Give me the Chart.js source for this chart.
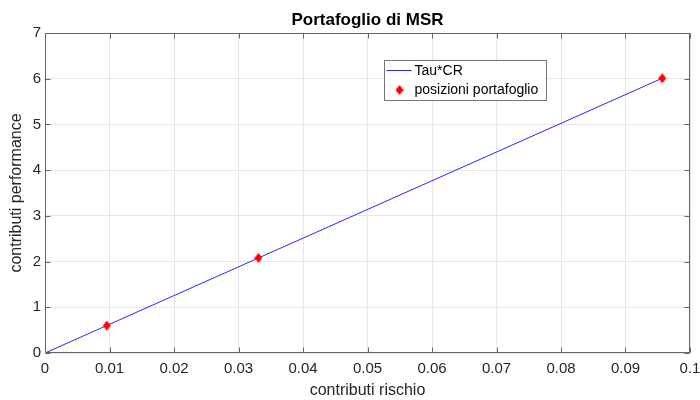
<!DOCTYPE html>
<html>
<head>
<meta charset="utf-8">
<script src="https://cdn.jsdelivr.net/npm/chart.js@4.4.0/dist/chart.umd.min.js"></script>
<style>
  html, body { margin: 0; padding: 0; background: #fff; }
  #wrap { width: 700px; height: 400px; }
</style>
</head>
<body>
<div id="wrap"><canvas id="chart" width="700" height="400"></canvas></div>
<script>
// ========== Data ==========
const riskContrib = [0.00958, 0.0331, 0.0957];   // CR of each position
const perfContrib = [0.60, 2.08, 6.01];          // performance contribution
const lineCR = [0, 0.0957];
const lineTauCR = [0, 6.01];
const xTickValues = [0, 0.01, 0.02, 0.03, 0.04, 0.05, 0.06, 0.07, 0.08, 0.09, 0.1];
const yTickValues = [0, 1, 2, 3, 4, 5, 6, 7];
const seriesNames = ["Tau*CR", "posizioni portafoglio"];

const FONT = "'Liberation Sans', Arial, sans-serif";
const AXIS_COLOR = "#666666";
const TEXT_COLOR = "#262626";

// ========== Markers ==========
function diamondMarker(w, h) {
  const c = document.createElement("canvas");
  c.width = w;
  c.height = h;
  const g = c.getContext("2d");
  g.fillStyle = "#ff0000";
  g.beginPath();
  g.moveTo(w / 2, 0);
  g.lineTo(w, h / 2);
  g.lineTo(w / 2, h);
  g.lineTo(0, h / 2);
  g.closePath();
  g.fill();
  return c;
}
const diamond = diamondMarker(8, 10);

// ========== Axes box with inward ticks ==========
const axesBox = {
  id: "axesBox",
  afterDatasetsDraw(chart) {
    const { ctx, chartArea: a, scales } = chart;
    const L = Math.round(a.left) + 0.5, R = Math.round(a.right) - 0.5;
    const T = Math.round(a.top) + 0.5, B = Math.round(a.bottom) - 0.5;
    const tl = 5;
    ctx.save();
    ctx.strokeStyle = AXIS_COLOR;
    ctx.lineWidth = 1;
    ctx.beginPath();
    scales.x.ticks.forEach((t) => {
      const px = Math.round(scales.x.getPixelForValue(t.value)) + 0.5;
      ctx.moveTo(px, B); ctx.lineTo(px, B - tl);
      ctx.moveTo(px, T); ctx.lineTo(px, T + tl);
    });
    scales.y.ticks.forEach((t) => {
      const py = Math.round(scales.y.getPixelForValue(t.value)) + 0.5;
      ctx.moveTo(L, py); ctx.lineTo(L + tl, py);
      ctx.moveTo(R, py); ctx.lineTo(R - tl, py);
    });
    ctx.stroke();
    ctx.strokeRect(L, T, R - L, B - T);
    ctx.restore();
  },
};

// ========== Legend box ==========
const legendBox = {
  id: "legendBox",
  afterDraw(chart) {
    const { ctx } = chart;
    const ds = chart.data.datasets;
    const x = 384.5, y = 60.5, w = 162, h = 40;
    ctx.save();
    ctx.fillStyle = "#ffffff";
    ctx.fillRect(x, y, w, h);
    ctx.strokeStyle = "#777777";
    ctx.lineWidth = 1;
    ctx.strokeRect(x, y, w, h);

    ctx.font = "14px " + FONT;
    ctx.fillStyle = "#000000";
    ctx.textBaseline = "middle";

    // line entry
    ctx.strokeStyle = ds[0].borderColor;
    ctx.beginPath();
    ctx.moveTo(x + 2, 70.5);
    ctx.lineTo(x + 27, 70.5);
    ctx.stroke();
    ctx.fillText(ds[0].label, x + 30, 71);

    // marker entry
    ctx.drawImage(diamond, x + 15 - 4, 90 - 5);
    ctx.fillText(ds[1].label, x + 30, 90);
    ctx.restore();
  },
};

// ========== Chart ==========
const ctx = document.getElementById("chart").getContext("2d");
new Chart(ctx, {
  type: "scatter",
  data: {
    datasets: [
      {
        label: seriesNames[0],
        type: "line",
        data: lineCR.map((v, i) => ({ x: v, y: lineTauCR[i] })),
        borderColor: "rgba(0, 0, 255, 0.85)",
        borderWidth: 1,
        pointRadius: 0,
        fill: false,
        tension: 0,
        order: 2,
      },
      {
        label: seriesNames[1],
        data: riskContrib.map((v, i) => ({ x: v, y: perfContrib[i] })),
        pointStyle: diamond,
        pointRadius: 5,
        backgroundColor: "#ff0000",
        borderColor: "#ff0000",
        order: 1,
      },
    ],
  },
  options: {
    responsive: false,
    animation: false,
    events: [],
    layout: { padding: { top: 0, right: 0, bottom: 0, left: 0 } },
    plugins: {
      legend: { display: false },
      tooltip: { enabled: false },
      title: {
        display: true,
        text: "Portafoglio di MSR",
        color: "#000000",
        fullSize: false,
        font: { family: FONT, size: 17, weight: "bold" },
        padding: { top: 10, bottom: 2.6 },
      },
    },
    scales: {
      x: {
        type: "linear",
        min: 0,
        max: 0.1,
        afterBuildTicks: (s) => { s.ticks = xTickValues.map((v) => ({ value: v })); },
        afterFit: (s) => {
          s.height = 47;
          s.paddingLeft = 0;
          s.paddingRight = 10;
        },
        grid: { color: "#e6e6e6", drawTicks: false },
        border: { display: false },
        ticks: {
          color: TEXT_COLOR,
          padding: 7,
          maxRotation: 0,
          autoSkip: false,
          font: { family: FONT, size: 15 },
          callback: (v) => String(+v.toFixed(2)),
        },
        title: {
          display: true,
          text: "contributi rischio",
          color: TEXT_COLOR,
          font: { family: FONT, size: 16 },
          padding: { top: 0, bottom: 0 },
        },
      },
      y: {
        type: "linear",
        min: 0,
        max: 7,
        afterBuildTicks: (s) => { s.ticks = yTickValues.map((v) => ({ value: v })); },
        afterFit: (s) => { s.width = 45; },
        grid: { color: "#e6e6e6", drawTicks: false },
        border: { display: false },
        ticks: {
          color: TEXT_COLOR,
          padding: 4,
          autoSkip: false,
          font: { family: FONT, size: 15 },
        },
        title: {
          display: true,
          text: "contributi performance",
          color: TEXT_COLOR,
          font: { family: FONT, size: 16 },
          padding: { top: 7, bottom: 0 },
        },
      },
    },
  },
  plugins: [axesBox, legendBox],
});
</script>
</body>
</html>
